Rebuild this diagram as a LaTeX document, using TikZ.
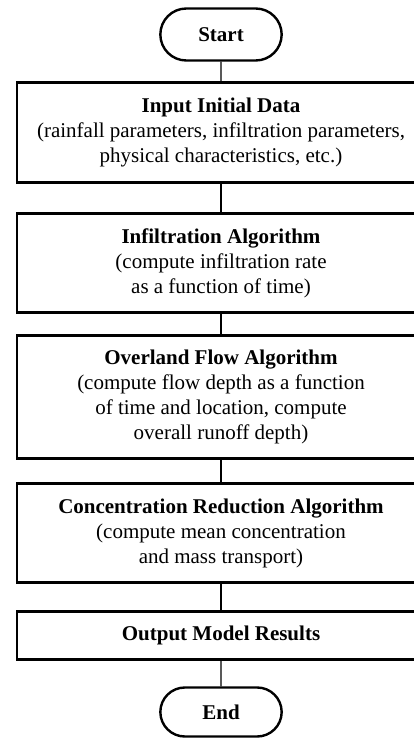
\documentclass[tikz,border=0pt]{standalone}
\usepackage{fontspec}
\setmainfont{Liberation Serif}
\usetikzlibrary{positioning, shapes.misc}

\begin{document}
\begin{tikzpicture}[x=1pt, y=-1pt,
    stepbox/.style={draw, line width=2.8pt, minimum width=408pt, align=center,
                    inner sep=0pt, font=\fontsize{21}{25}\selectfont},
    term/.style={draw, rounded rectangle, line width=2.4pt, minimum width=128pt,
                 font=\fontsize{21}{25}\selectfont\bfseries},
    link/.style={line width=1.4pt}]
    %
    % Coordinates are in pixels of the reference, measured from the top-left.
    % The step boxes run past the right edge, so the picture is clipped.
    %
    \useasboundingbox (0,0) rectangle (414,738);
    \clip (0,0) rectangle (414,738);

    %% ── terminals ───────────────────────────────────────────────────
    \node[term, minimum height=52pt] (start) at (221,34.5) {Start};
    \node[term, minimum height=49pt] (end)   at (221,712)  {End};

    %% ── step boxes ──────────────────────────────────────────────────
    \node[stepbox, minimum height=100pt] (input) at (221,132.5)
      {\textbf{Input Initial Data}\\
       (rainfall parameters, infiltration parameters,\\
       physical characteristics, etc.)};
    \node[stepbox, minimum height=99pt] (infil) at (221,263)
      {\textbf{Infiltration Algorithm}\\
       (compute infiltration rate\\
       as a function of time)};
    \node[stepbox, minimum height=123pt] (overland) at (221,397)
      {\textbf{Overland Flow Algorithm}\\
       (compute flow depth as a function\\
       of time and location, compute\\
       overall runoff depth)};
    \node[stepbox, minimum height=99pt] (conc) at (221,533)
      {\textbf{Concentration Reduction Algorithm}\\
       (compute mean concentration\\
       and mass transport)};
    \node[stepbox, minimum height=48pt] (output) at (221,635.5)
      {\textbf{Output Model Results}};

    %% ── connectors ──────────────────────────────────────────────────
    \draw[link] (start) -- (input);
    \draw[link] (input) -- (infil);
    \draw[link] (infil) -- (overland);
    \draw[link] (overland) -- (conc);
    \draw[link] (conc) -- (output);
    \draw[link] (output) -- (end);

\end{tikzpicture}
\end{document}
